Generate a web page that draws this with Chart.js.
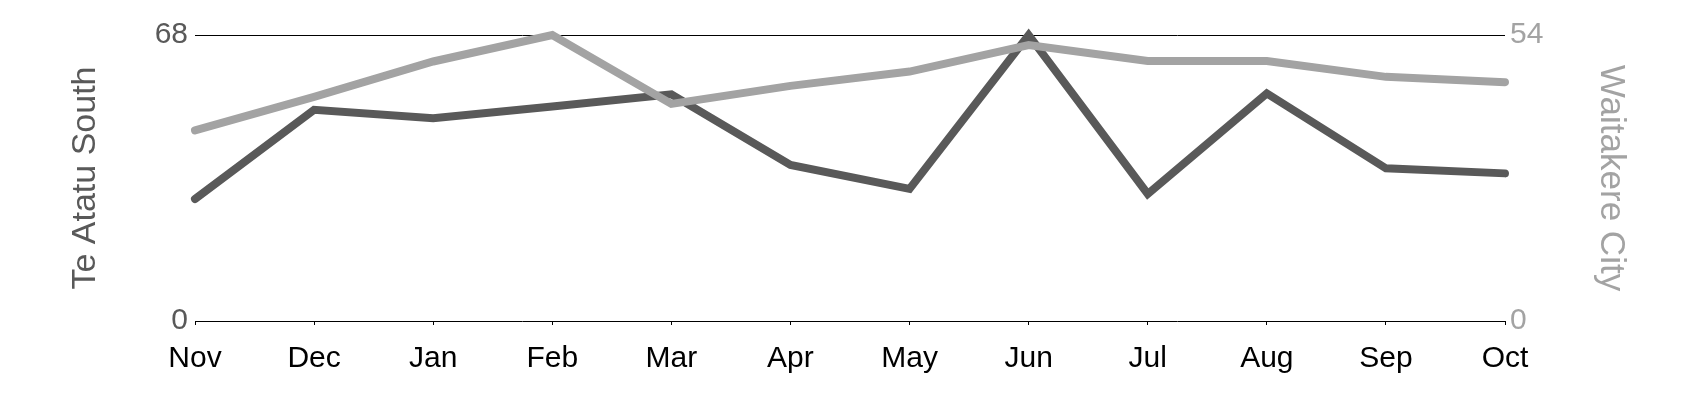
<!DOCTYPE html>
<html>
<head>
<meta charset="utf-8">
<script src="https://cdn.jsdelivr.net/npm/chart.js@4/dist/chart.umd.min.js"></script>
<style>
  html, body { margin: 0; padding: 0; background: #ffffff; }
  #wrap { width: 1700px; height: 400px; }
</style>
</head>
<body>
<div id="wrap"><canvas id="c" width="1700" height="400"></canvas></div>
<script>
const months = ["Nov","Dec","Jan","Feb","Mar","Apr","May","Jun","Jul","Aug","Sep","Oct"];
const teAtatuSouth = [29, 50.2, 48.2, 51, 53.9, 37.1, 31.4, 68, 30.2, 54.1, 36.3, 35.1];
const waitakereCity = [36, 42.3, 49, 54, 41, 44.4, 47.1, 52.1, 49.1, 49.1, 46.1, 45.1];
const leftTicks = [0, 68];
const rightTicks = [0, 54];
const leftTitle = "Te Atatu South";
const rightTitle = "Waitakere City";

const DARK = "#595959";
const LIGHT = "#a3a3a3";
const FONT = "'Liberation Sans', Arial, sans-serif";

new Chart(document.getElementById("c"), {
  type: "line",
  data: {
    labels: months,
    datasets: [
      {
        label: leftTitle,
        data: teAtatuSouth,
        yAxisID: "yL",
        borderColor: DARK,
        backgroundColor: DARK,
        borderWidth: 8,
        borderCapStyle: "round",
        borderJoinStyle: "miter",
        pointRadius: 0,
        tension: 0,
        clip: false,
        order: 2
      },
      {
        label: rightTitle,
        data: waitakereCity,
        yAxisID: "yR",
        borderColor: LIGHT,
        backgroundColor: LIGHT,
        borderWidth: 8,
        borderCapStyle: "round",
        borderJoinStyle: "miter",
        pointRadius: 0,
        tension: 0,
        clip: false,
        order: 1
      }
    ]
  },
  options: {
    responsive: false,
    animation: false,
    devicePixelRatio: 1,
    layout: { padding: { top: 35, bottom: 0, left: 0, right: 0 } },
    plugins: { legend: { display: false }, tooltip: { enabled: false } },
    scales: {
      x: {
        type: "category",
        offset: false,
        grid: { drawOnChartArea: false, drawTicks: true, tickLength: 4, color: "#000000", lineWidth: 1 },
        border: { display: false },
        ticks: { color: "#000000", font: { family: FONT, size: 30 }, padding: 16, maxRotation: 0, autoSkip: false },
        afterFit: s => { s.height = 79; }
      },
      yL: {
        type: "linear",
        position: "left",
        min: leftTicks[0],
        max: leftTicks[leftTicks.length - 1],
        afterBuildTicks: s => { s.ticks = leftTicks.map(v => ({ value: v })); },
        grid: { drawTicks: false, color: "#000000", lineWidth: 1 },
        border: { display: false },
        ticks: { color: DARK, font: { family: FONT, size: 30 }, padding: 7 },
        title: { display: true, text: leftTitle, color: DARK, font: { family: FONT, size: 34 }, padding: { top: 65, bottom: 0 } },
        afterFit: s => { s.width = 195; }
      },
      yR: {
        type: "linear",
        position: "right",
        min: rightTicks[0],
        max: rightTicks[rightTicks.length - 1],
        afterBuildTicks: s => { s.ticks = rightTicks.map(v => ({ value: v })); },
        grid: { display: false, drawTicks: false },
        border: { display: false },
        ticks: { color: LIGHT, font: { family: FONT, size: 30 }, padding: 5 },
        title: { display: true, text: rightTitle, color: LIGHT, font: { family: FONT, size: 35 }, padding: { top: 68, bottom: 0 } },
        afterFit: s => { s.width = 195; }
      }
    }
  }
});
</script>
</body>
</html>
